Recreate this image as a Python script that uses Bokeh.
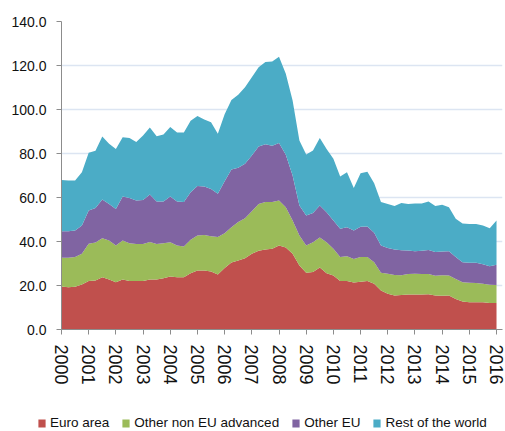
from bokeh.plotting import figure
from bokeh.layouts import column, row
from bokeh.models import ColumnDataSource, Legend, LegendItem, FixedTicker, NumeralTickFormatter, Range1d
from bokeh.embed import file_html
from bokeh.resources import INLINE

# ---- data (quarterly, 2000Q1 .. 2016Q1) ----
year_ticks = list(range(2000, 2017))
quarters = [2000 + i / 4 for i in range(65)]

euro_area = [19.5, 19.2, 19.4, 20.5, 22.0, 22.3, 23.8, 22.7, 21.5, 22.7, 22.0, 22.0, 22.0,
             22.7, 22.7, 23.3, 24.1, 23.8, 23.8, 25.6, 26.8, 26.8, 26.4, 25.0, 28.0, 30.5,
             31.4, 32.4, 34.4, 35.8, 36.4, 36.7, 38.2, 37.3, 34.4, 29.1, 25.8, 26.1, 28.2,
             25.6, 24.5, 22.0, 22.0, 21.4, 21.7, 22.0, 20.8, 17.7, 16.2, 15.5, 15.7, 15.9,
             15.9, 15.9, 16.0, 15.5, 15.3, 15.5, 13.9, 12.7, 12.4, 12.4, 12.4, 12.1, 12.1]
other_non_eu_advanced = [13.1, 13.4, 13.6, 13.9, 17.0, 17.2, 17.7, 17.8, 16.7, 17.8, 17.2, 16.9, 16.9,
                         17.1, 16.2, 15.9, 15.6, 14.4, 13.9, 15.2, 15.9, 16.2, 16.0, 17.0, 15.8, 16.0,
                         17.5, 18.2, 19.4, 21.2, 21.5, 21.3, 20.4, 18.3, 15.1, 13.6, 12.4, 13.6, 13.6,
                         14.1, 12.2, 10.9, 11.3, 10.6, 11.3, 11.0, 9.8, 8.1, 9.1, 9.3, 9.0, 9.3,
                         9.4, 9.3, 9.2, 8.9, 9.4, 9.0, 9.1, 8.8, 8.8, 8.7, 8.4, 8.2, 8.1]
other_eu = [12.1, 12.1, 12.0, 12.9, 15.1, 15.7, 17.6, 16.6, 16.6, 20.0, 20.6, 19.7, 20.0,
            21.6, 19.3, 19.0, 20.8, 20.0, 20.2, 21.6, 22.5, 22.0, 21.5, 19.7, 23.6, 26.2,
            24.6, 24.7, 25.3, 26.2, 26.3, 25.5, 26.2, 23.8, 20.5, 13.7, 13.6, 13.3, 14.6,
            13.6, 12.8, 12.9, 13.2, 13.0, 13.7, 13.8, 13.4, 12.4, 11.8, 11.6, 11.3, 10.7,
            10.3, 10.6, 10.9, 10.8, 10.8, 11.1, 9.9, 9.1, 9.1, 9.2, 8.9, 8.5, 9.2]
rest_of_the_world = [23.3, 23.0, 22.7, 24.2, 26.2, 26.0, 28.6, 27.3, 27.2, 26.9, 27.3, 26.6, 29.3,
                     30.4, 29.6, 30.4, 31.6, 31.4, 31.6, 32.5, 31.8, 30.4, 30.3, 27.3, 30.4, 31.6,
                     33.2, 34.8, 35.6, 36.0, 37.4, 38.3, 39.2, 36.8, 34.1, 29.5, 27.7, 28.4, 30.7,
                     28.8, 28.1, 23.7, 25.0, 19.3, 24.3, 24.9, 22.5, 19.8, 20.0, 19.7, 21.5, 21.1,
                     21.7, 21.5, 22.1, 20.9, 21.2, 20.0, 17.4, 17.6, 17.7, 17.7, 17.6, 17.2, 20.1]

series_names = ["Euro area", "Other non EU advanced", "Other EU", "Rest of the world"]
series_keys = ["euro", "noneu", "othereu", "rest"]
colors = ["#C0504D", "#9BBB59", "#8064A2", "#4BACC6"]
y_ticks = [0, 20, 40, 60, 80, 100, 120, 140]

src = ColumnDataSource(dict(x=quarters, euro=euro_area, noneu=other_non_eu_advanced,
                            othereu=other_eu, rest=rest_of_the_world))

FONT = "Liberation Sans"

p = figure(width=505, height=392, output_backend="svg", toolbar_location=None,
           x_range=Range1d(2000, 2016.22), y_range=Range1d(0, 140),
           min_border_left=61, min_border_right=3, min_border_top=21, min_border_bottom=63)
p.outline_line_color = None
p.background_fill_color = "white"

renderers = p.varea_stack(stackers=series_keys, x="x", color=colors, source=src)

# axes
for ax in (p.xaxis[0], p.yaxis[0]):
    ax.axis_line_color = "#8C8C8C"
    ax.major_tick_line_color = "#8C8C8C"
    ax.major_tick_out = 5
    ax.major_tick_in = 0
    ax.minor_tick_line_color = None
    ax.major_label_text_color = "#111111"
    ax.major_label_text_font = FONT

p.yaxis[0].ticker = FixedTicker(ticks=y_ticks)
p.yaxis[0].formatter = NumeralTickFormatter(format="0.0")
p.yaxis[0].major_label_text_font_size = "14px"
p.yaxis[0].major_label_standoff = 10

p.xaxis[0].ticker = FixedTicker(ticks=year_ticks)
p.xaxis[0].major_label_orientation = "vertical"
p.xaxis[0].major_label_text_font_size = "18px"
p.xaxis[0].major_label_standoff = 10

p.xgrid.grid_line_color = None
p.ygrid.grid_line_color = "#DCE5F2"
p.ygrid.grid_line_width = 1.5
p.ygrid.ticker = FixedTicker(ticks=y_ticks)

# ---- legend strip (separate figure below the chart) ----
lg = figure(width=505, height=38, output_backend="svg", toolbar_location=None,
            x_axis_type=None, y_axis_type=None, x_range=Range1d(0, 1), y_range=Range1d(0, 1),
            min_border_left=37, min_border_right=0, min_border_top=0, min_border_bottom=0)
lg.outline_line_color = None
lg.xgrid.grid_line_color = None
lg.ygrid.grid_line_color = None
dummy = ColumnDataSource(dict(x=[-10, -9], y1=[0, 0], y2=[1, 1]))
legend_renderers = [lg.varea(x="x", y1="y1", y2="y2", color=c, source=dummy) for c in colors]
items = [LegendItem(label=n, renderers=[r]) for n, r in zip(series_names, legend_renderers)]
legend = Legend(items=items, orientation="horizontal", location=(0, 0),
                border_line_color=None, background_fill_alpha=0, padding=0, margin=0,
                spacing=12, label_standoff=4, glyph_width=9, glyph_height=10,
                label_height=12, label_text_font=FONT, label_text_font_size="13.5px",
                label_text_color="#111111")
lg.add_layout(legend, "center")

layout = column(p, row(lg), spacing=0)
open("out.html", "w").write(file_html(layout, INLINE))
